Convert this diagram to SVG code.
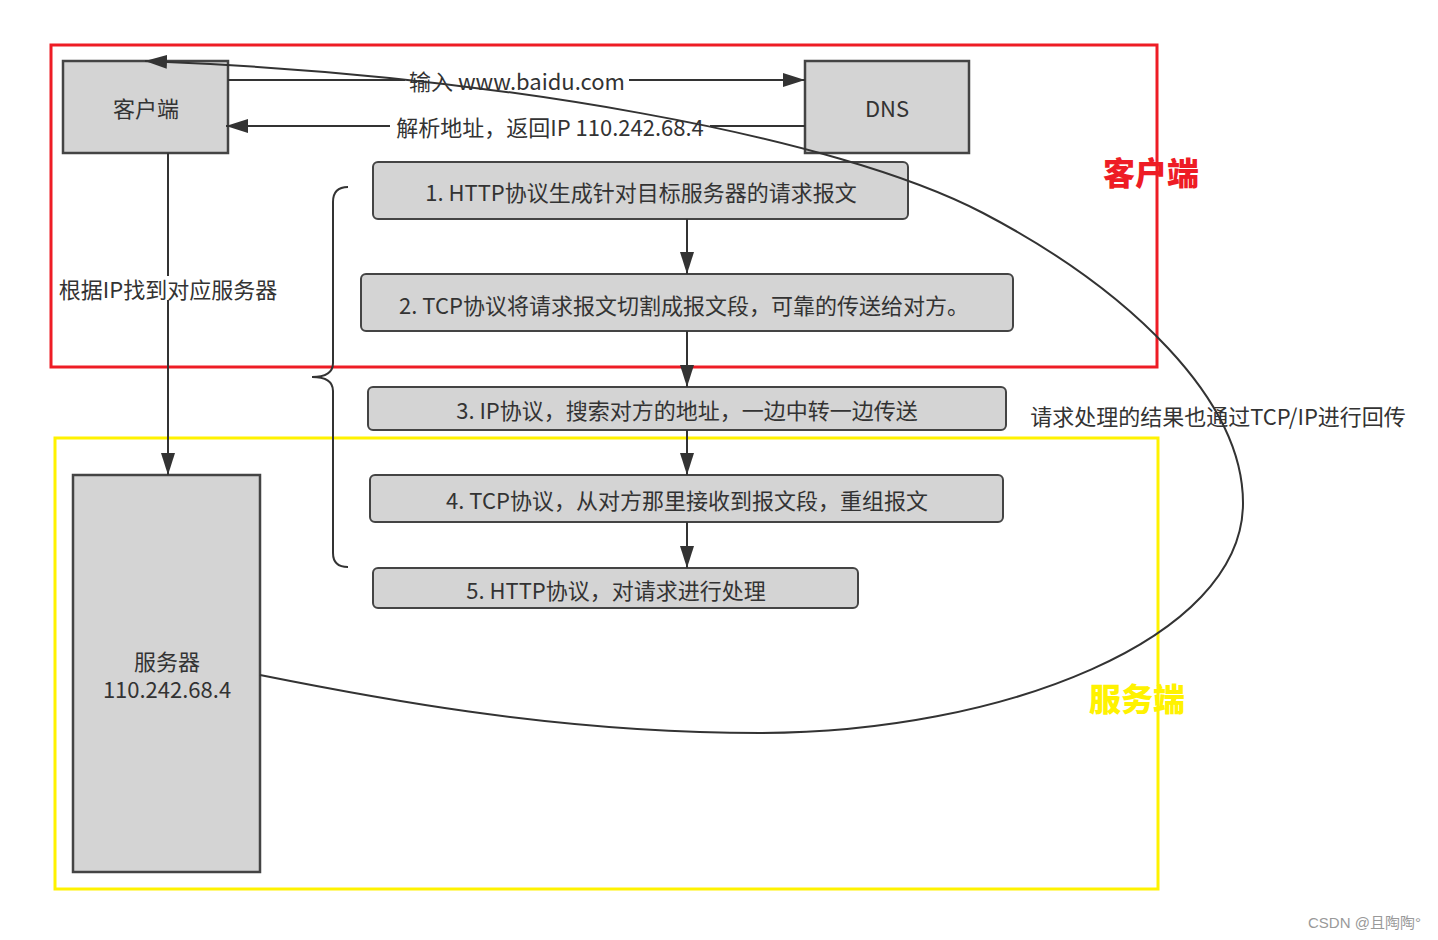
<svg xmlns="http://www.w3.org/2000/svg" width="1438" height="940" viewBox="0 0 1438 940">
  <defs>
    <style>
      .box { fill: #d4d4d4; stroke: #444444; stroke-width: 2.5; }
      .step { fill: #d4d4d4; stroke: #444444; stroke-width: 2; }
      .t { font-family: "Noto Sans CJK SC", "Noto Sans", sans-serif; font-size: 22px; fill: #333333; text-anchor: middle; dominant-baseline: central; }
      .line { fill: none; stroke: #333333; stroke-width: 2; }
      .bg { fill: #ffffff; }
      .title { font-family: "Noto Sans CJK SC", sans-serif; font-size: 32px; font-weight: 900; text-anchor: middle; dominant-baseline: central; }
    </style>
    <marker id="ah" markerUnits="userSpaceOnUse" markerWidth="22" markerHeight="14" refX="22" refY="7" orient="auto">
      <path d="M0,0 L22,7 L0,14 z" fill="#333333"/>
    </marker>
  </defs>
  <rect width="1438" height="940" fill="#ffffff"/>

  <!-- region frames -->
  <g id="zone-client">
    <rect x="51" y="45" width="1106" height="322" fill="none" stroke="#ee1c25" stroke-width="3"/>
  </g>
  <g id="zone-server">
    <rect x="55" y="438" width="1103" height="451" fill="none" stroke="#fff200" stroke-width="3"/>
  </g>

  <!-- nodes -->
  <g id="node-client">
    <rect class="box" x="63" y="61" width="165" height="92"/>
    <text class="t" x="146" y="107">客户端</text>
  </g>
  <g id="node-dns">
    <rect class="box" x="805" y="61" width="164" height="92"/>
    <text class="t" x="887" y="107">DNS</text>
  </g>
  <g id="node-server">
    <rect class="box" x="73" y="475" width="187" height="397"/>
    <text class="t" x="167" y="674"><tspan x="167" dy="-14">服务器</tspan><tspan x="167" dy="28">110.242.68.4</tspan></text>
  </g>
  <g id="node-step1">
    <rect class="step" x="373" y="162" width="535" height="57" rx="5"/>
    <text class="t" x="641" y="191">1. HTTP协议生成针对目标服务器的请求报文</text>
  </g>
  <g id="node-step2">
    <rect class="step" x="361" y="274" width="652" height="57" rx="5"/>
    <text class="t" x="684" y="304">2. TCP协议将请求报文切割成报文段，可靠的传送给对方。</text>
  </g>
  <g id="node-step3">
    <rect class="step" x="368" y="387" width="638" height="43" rx="5"/>
    <text class="t" x="687" y="409">3. IP协议，搜索对方的地址，一边中转一边传送</text>
  </g>
  <g id="node-step4">
    <rect class="step" x="370" y="475" width="633" height="47" rx="5"/>
    <text class="t" x="687" y="499">4. TCP协议，从对方那里接收到报文段，重组报文</text>
  </g>
  <g id="node-step5">
    <rect class="step" x="373" y="568" width="485" height="40" rx="5"/>
    <text class="t" x="616" y="589">5. HTTP协议，对请求进行处理</text>
  </g>

  <!-- connectors -->
  <g id="connectors">
    <line class="line" x1="228" y1="80" x2="805" y2="80" marker-end="url(#ah)"/>
    <line class="line" x1="805" y1="126" x2="226" y2="126" marker-end="url(#ah)"/>
    <line class="line" x1="168" y1="153" x2="168" y2="475" marker-end="url(#ah)"/>
    <line class="line" x1="687" y1="219" x2="687" y2="274" marker-end="url(#ah)"/>
    <line class="line" x1="687" y1="331" x2="687" y2="387" marker-end="url(#ah)"/>
    <line class="line" x1="687" y1="430" x2="687" y2="475" marker-end="url(#ah)"/>
    <line class="line" x1="687" y1="522" x2="687" y2="568" marker-end="url(#ah)"/>
    <!-- brace -->
    <path class="line" d="M348 187 Q333 187 333 202 L333 363 Q333 377 312 377 Q333 377 333 391 L333 553 Q333 567 348 567"/>
    <!-- labels -->
    <rect class="bg" x="405" y="68" width="224" height="24"/>
    <text class="t" x="517" y="80">输入 www.baidu.com</text>
    <rect class="bg" x="390" y="114" width="320" height="24"/>
    <text class="t" x="550" y="126">解析地址，返回IP 110.242.68.4</text>
    <rect class="bg" x="57" y="276" width="222" height="24"/>
    <text class="t" x="168" y="288">根据IP找到对应服务器</text>
    <rect class="bg" x="1026" y="403" width="384" height="24"/>
    <text class="t" x="1218" y="415">请求处理的结果也通过TCP/IP进行回传</text>
    <!-- return curve -->
    <path class="line" d="M260 675 C360 695 550 733 760 733 C1000 733 1243 640 1243 503 C1243 400 1130 290 983 213 C836 136 500 75 145 61" marker-end="url(#ah)"/>
  </g>

  <!-- zone titles -->
  <text class="title" x="1151" y="171" fill="#ee1c25">客户端</text>
  <text class="title" x="1137" y="697" fill="#fff200">服务端</text>

  <text x="1308" y="928" font-family="Liberation Sans, Noto Sans CJK SC, sans-serif" font-size="15" fill="#999999">CSDN @且陶陶°</text>
</svg>
